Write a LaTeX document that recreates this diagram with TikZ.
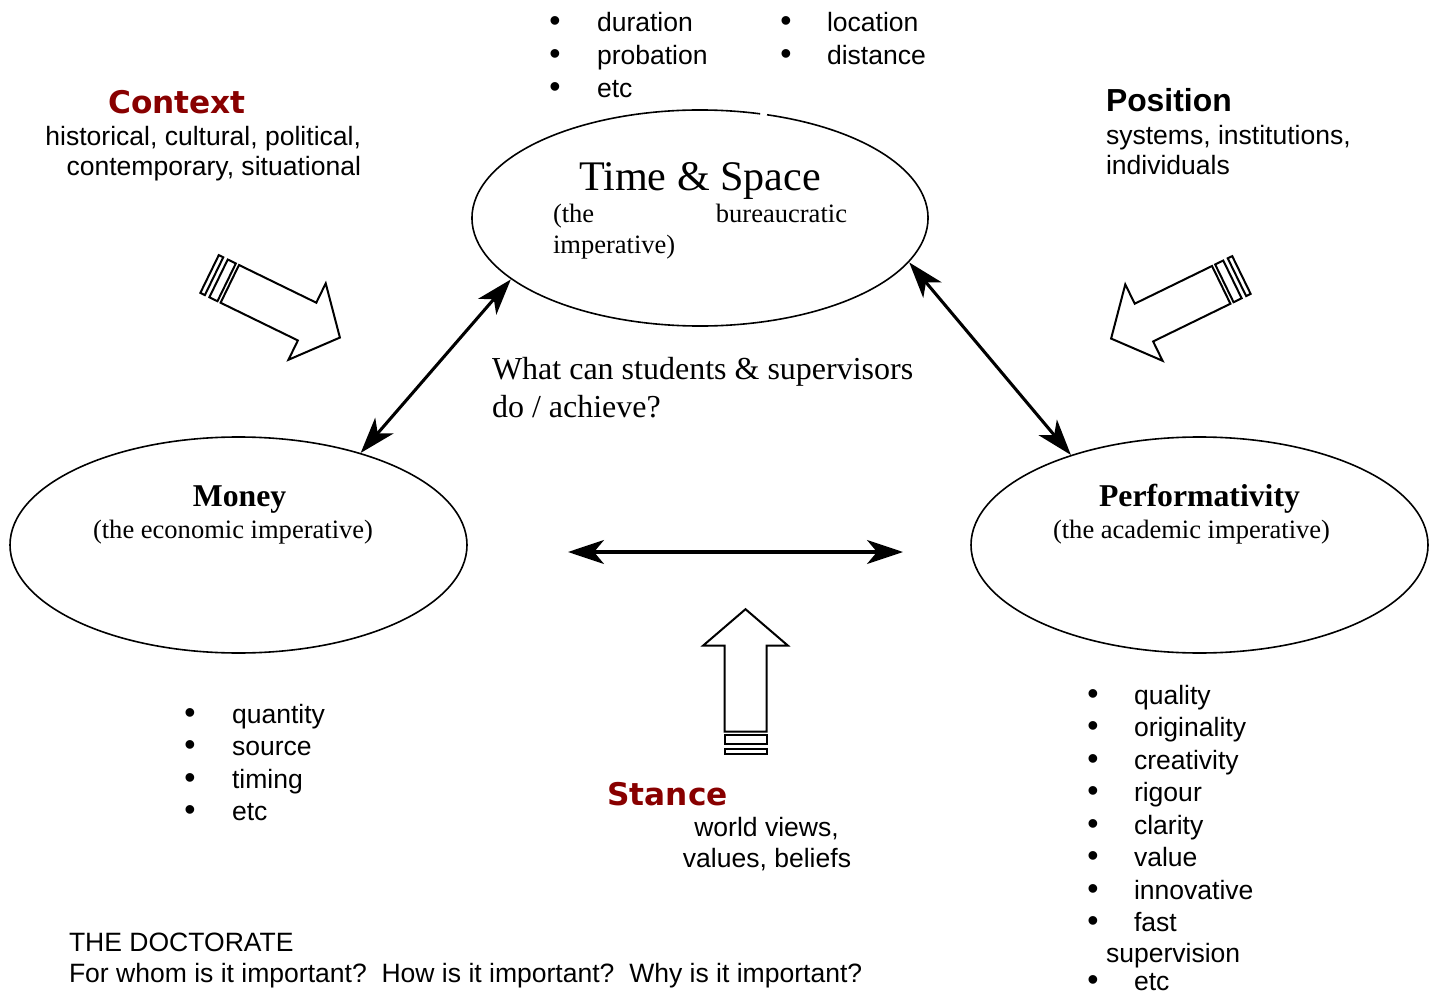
\documentclass[tikz,border=0pt]{standalone}
\usepackage{fontspec}
\setmainfont{Liberation Serif}
\setsansfont{Liberation Sans}
\newfontfamily\verdfont{DejaVu Sans}
\usetikzlibrary{arrows.meta,shapes.geometric}
\definecolor{ctxred}{RGB}{136,0,0}
\tikzset{
  txt/.style={inner sep=0pt, outer sep=0pt},
  sans/.style={txt, font=\sffamily\fontsize{19.9pt}{24pt}\selectfont},
  bul/.style={txt, font=\sffamily\fontsize{24pt}{24pt}\selectfont},
  serif/.style={txt, font=\rmfamily\fontsize{19.9pt}{24pt}\selectfont},
  bigserif/.style={txt, font=\rmfamily\fontsize{24pt}{28pt}\selectfont},
  titleserif/.style={txt, font=\rmfamily\bfseries\fontsize{23.8pt}{28pt}\selectfont},
  hugeserif/.style={txt, font=\rmfamily\fontsize{31.6pt}{36pt}\selectfont},
  redhead/.style={txt, text=ctxred, font=\verdfont\bfseries\fontsize{23.4pt}{28pt}\selectfont},
  blackhead/.style={txt, font=\sffamily\bfseries\fontsize{23.9pt}{28pt}\selectfont},
  ell/.style={ellipse, inner sep=0pt, minimum width=342.75pt, minimum height=162pt, line width=1.2pt},
  dbl/.style={line width=2.3pt, {Stealth[length=27pt,width=18pt,inset=7.5pt]}-{Stealth[length=27pt,width=18pt,inset=7.5pt]}},
  blk/.style={line width=1.5pt},
  stripedarrow/.pic={
    \draw[blk] (0,0) -- (86,0) -- (86,-21.5) -- (122.5,21) -- (86,63.5) -- (86,42) -- (0,42) -- cycle;
    \draw[blk] (-12.5,0) rectangle (-3.5,42);
    \draw[blk] (-22.5,0) rectangle (-17.5,42);
  }
}
\begin{document}
\begin{tikzpicture}[x=0.75pt,y=-0.75pt]
\useasboundingbox (0,0) rectangle (1437,994);

% ellipses
\node[ell] (ts) at (700,218) {};
\draw[line width=1.2pt] (ts.center) ++(-72.9:228 and 108) arc[start angle=-72.9, end angle=285.3, x radius=228, y radius=108];
\node[ell, draw] (money) at (238.5,545) {};
\node[ell, draw] (perf) at (1199.5,545) {};

% ellipse texts
\node[hugeserif, anchor=base] (tstitle) at (700,191) {Time \& Space};
\node[serif, anchor=base west] (tsa) at (553,223) {(the};
\node[serif, anchor=base east] (tsb) at (847,223) {bureaucratic};
\node[serif, anchor=base west] (tsc) at (553,254) {imperative)};

\node[titleserif, anchor=base] (mtitle) at (239.5,506) {Money};
\node[serif, anchor=base] (msub) at (233,538) {(the economic imperative)};
\node[titleserif, anchor=base] (ptitle) at (1199.5,506) {Performativity};
\node[serif, anchor=base] (psub) at (1191.5,538) {(the academic imperative)};

\node[bigserif, anchor=base west] (q1) at (492,380) {What can students \& supervisors};
\node[bigserif, anchor=base west] (q2) at (492,417) {do / achieve?};

% connectors
\draw[dbl] (money.37.6) -- (ts.198.9);
\draw[dbl] (ts.-12.3) -- (perf.145.2);
\coordinate (hl) at (568,552);
\coordinate (hr) at (903,552);
\draw[dbl] (hl) -- (hr);

% block arrows
\begin{scope}[shift={(239,265)}, rotate=-26]
  \pic[transform shape] {stripedarrow};
\end{scope}
\begin{scope}[shift={(1212,266)}, xscale=-1, rotate=-26]
  \pic[transform shape] {stripedarrow};
\end{scope}
\begin{scope}[shift={(724.5,731.7)}, rotate=90]
  \pic[transform shape] {stripedarrow};
\end{scope}

% Context
\node[redhead, anchor=base] (ctx) at (177,114) {Context};
\node[sans, anchor=base east] (ctx1) at (361,146) {historical, cultural, political,};
\node[sans, anchor=base east] (ctx2) at (361,176) {contemporary, situational};

% Position
\node[blackhead, anchor=base west] (pos) at (1106,112) {Position};
\node[sans, anchor=base west] (pos1) at (1106,144.5) {systems, institutions,};
\node[sans, anchor=base west] (pos2) at (1106,175) {individuals};

% top bullets
\node[bul, anchor=base] (tb1) at (555,32) {•};
\node[sans, anchor=base west] (tt1) at (597,32) {duration};
\node[bul, anchor=base] (tb2) at (555,65) {•};
\node[sans, anchor=base west] (tt2) at (597,65) {probation};
\node[bul, anchor=base] (tb3) at (555,97.5) {•};
\node[sans, anchor=base west] (tt3) at (597,97.5) {etc};
\node[bul, anchor=base] (tb4) at (786,32) {•};
\node[sans, anchor=base west] (tt4) at (827,32) {location};
\node[bul, anchor=base] (tb5) at (786,65) {•};
\node[sans, anchor=base west] (tt5) at (827,65) {distance};

% money bullets
\foreach \i/\y/\t in {1/723/quantity, 2/755.5/source, 3/788/timing, 4/820.5/etc}{
  \node[bul, anchor=base] (mb\i) at (190,\y) {•};
  \node[sans, anchor=base west] (mt\i) at (232,\y) {\t};
}

% performativity bullets
\foreach \i/\y/\t in {1/704/quality, 2/736.5/originality, 3/769/creativity, 4/801.5/rigour, 5/834/clarity, 6/866.5/value, 7/899/innovative, 8/931.5/fast}{
  \node[bul, anchor=base] (pb\i) at (1093,\y) {•};
  \node[sans, anchor=base west] (pt\i) at (1134,\y) {\t};
}
\node[sans, anchor=base west] (pt9) at (1106,962) {supervision};
\node[bul, anchor=base] (pb10) at (1093,990) {•};
\node[sans, anchor=base west] (pt10) at (1134,990) {etc};

% Stance
\node[redhead, anchor=base] (stance) at (667.5,805) {Stance};
\node[sans, anchor=base] (st1) at (766.5,836) {world views,};
\node[sans, anchor=base] (st2) at (767,867) {values, beliefs};

% bottom
\node[sans, anchor=base west] (doc1) at (69,951) {THE DOCTORATE};
\node[sans, anchor=base west] (doc2) at (69,982) {For whom is it important?\ \ How is it important?\ \ Why is it important?};
\end{tikzpicture}
\end{document}
